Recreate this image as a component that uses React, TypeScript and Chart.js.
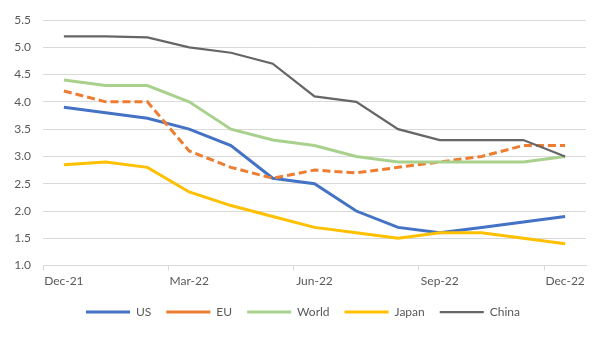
import React, { useEffect, useRef } from "react";
import { Chart, registerables } from "chart.js";

Chart.register(...registerables);

const months = [
  "Dec-21", "Jan-22", "Feb-22", "Mar-22", "Apr-22", "May-22", "Jun-22",
  "Jul-22", "Aug-22", "Sep-22", "Oct-22", "Nov-22", "Dec-22",
];
const usValues = [3.9, 3.8, 3.7, 3.5, 3.2, 2.6, 2.5, 2.0, 1.7, 1.6, 1.7, 1.8, 1.9];
const euValues = [4.2, 4.0, 4.0, 3.1, 2.8, 2.6, 2.75, 2.7, 2.8, 2.9, 3.0, 3.2, 3.2];
const worldValues = [4.4, 4.3, 4.3, 4.0, 3.5, 3.3, 3.2, 3.0, 2.9, 2.9, 2.9, 2.9, 3.0];
const japanValues = [2.85, 2.9, 2.8, 2.35, 2.1, 1.9, 1.7, 1.6, 1.5, 1.6, 1.6, 1.5, 1.4];
const chinaValues = [5.2, 5.2, 5.18, 5.0, 4.9, 4.7, 4.1, 4.0, 3.5, 3.3, 3.3, 3.3, 3.0];
const yMin = 1.0;
const yMax = 5.5;
const yStep = 0.5;

const FONT = "Lato, 'Open Sans', sans-serif";
const TEXT = "#595959";
const GRID = "#d9d9d9";

export default function App() {
  const ref = useRef<HTMLCanvasElement | null>(null);
  useEffect(() => {
    document.body.style.margin = "0";
    const ctx = ref.current!;
    const mk = (label: string, data: number[], color: string, width: number, order: number, dash: number[] = []) => ({
      label,
      data,
      borderColor: color,
      backgroundColor: color,
      borderWidth: width,
      borderDash: dash,
      pointRadius: 0,
      pointHoverRadius: 0,
      tension: 0,
      fill: false,
      order,
    });
    const chart = new Chart(ctx, {
      type: "line",
      data: {
        labels: months,
        datasets: [
          mk("US", usValues, "#4472C4", 3, 5),
          mk("EU", euValues, "#ED7D31", 3, 4, [8, 4]),
          mk("World", worldValues, "#A9D18E", 3, 3),
          mk("Japan", japanValues, "#FFC000", 3, 2),
          mk("China", chinaValues, "#666666", 2.25, 1),
        ],
      },
      options: {
        animation: false,
        responsive: false,
        maintainAspectRatio: false,
        layout: { padding: { top: 20, right: 0, bottom: 10, left: 0 } },
        plugins: {
          tooltip: { enabled: false },
          legend: {
            position: "bottom",
            labels: {
              usePointStyle: true,
              pointStyle: "line",
              pointStyleWidth: 44,
              padding: 15,
              color: TEXT,
              font: { family: FONT, size: 12 },
              sort: (a: any, b: any) => a.datasetIndex - b.datasetIndex,
            },
          },
        },
        scales: {
          x: {
            type: "category",
            offset: true,
            grid: {
              offset: true,
              drawOnChartArea: false,
              drawTicks: true,
              tickLength: 5,
              color: (c: any) => (c.index % 3 === 0 ? GRID : "rgba(0,0,0,0)"),
              tickColor: (c: any) => (c.index % 3 === 0 ? GRID : "rgba(0,0,0,0)"),
            },
            border: { display: true, color: GRID },
            ticks: {
              autoSkip: false,
              maxRotation: 0,
              color: TEXT,
              font: { family: FONT, size: 12 },
              padding: 3,
              callback: (_v: any, i: number) => (i % 3 === 0 ? months[i] : ""),
            },
          },
          y: {
            min: yMin,
            max: yMax,
            grid: { color: GRID, drawTicks: false },
            border: { display: false },
            ticks: {
              stepSize: yStep,
              color: TEXT,
              padding: 12,
              font: { family: FONT, size: 12 },
              callback: (v: any) => Number(v).toFixed(1),
            },
            afterFit: (s: any) => {
              s.width = 43;
            },
          },
          yRight: {
            type: "linear",
            position: "right",
            grid: { display: false, drawTicks: false },
            border: { display: false },
            ticks: { display: false },
            afterFit: (s: any) => {
              s.width = 20;
            },
          },
        },
      },
    });
    return () => chart.destroy();
  }, []);
  return (
    <div style={{ position: "absolute", left: 0, top: 0, width: 606, height: 338 }}>
      <canvas ref={ref} width={606} height={338} style={{ width: 606, height: 338 }} />
    </div>
  );
}
